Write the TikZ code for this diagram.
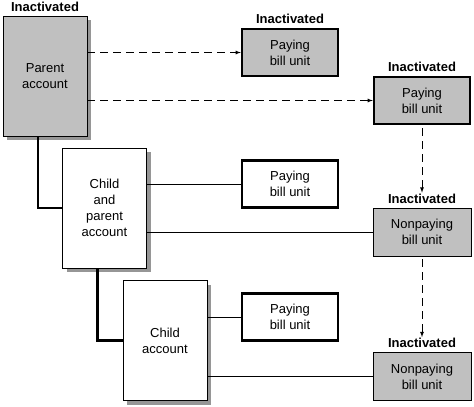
\documentclass[tikz,border=0pt]{standalone}
\usepackage{fontspec}
\setmainfont{Liberation Sans}
\usetikzlibrary{positioning}
\definecolor{boxgray}{RGB}{192,192,192}
\definecolor{shadowgray}{RGB}{150,150,150}

\begin{document}
\begin{tikzpicture}[
        % One unit per pixel, y running down
        x=1pt, y=-1pt,
        every node/.style={font=\fontsize{13}{16}\selectfont},
        % Box Styles
        acctbox/.style={
            rectangle,
            draw=black,
            line width=0.8pt,
            fill=white,
            align=center,
            inner sep=0pt,
            minimum width=84pt,
            minimum height=120pt
        },
        billbox/.style={
            rectangle,
            draw=black,
            fill=white,
            align=center,
            inner sep=0pt
        },
        payingbox/.style={
            billbox,
            line width=2.4pt,
            minimum width=96pt,
            minimum height=47pt
        },
        nonpayingbox/.style={
            billbox,
            line width=0.8pt,
            minimum width=98pt,
            minimum height=48pt
        },
        stopped/.style={fill=boxgray}, % inactivated items are grey
        statelbl/.style={font=\fontsize{13}{16}\selectfont\bfseries, inner sep=1pt},
        boxshadow/.style={fill=shadowgray, minimum width=84pt, minimum height=120pt, inner sep=0pt},
        % Connector Styles
        dasharrow/.style={-latex, line width=0.8pt, dash pattern=on 8pt off 5pt},
        plainline/.style={line width=0.8pt},
        heavyline/.style={line width=2.8pt}
    ]
    \useasboundingbox (0,0) rectangle (474,407);

    % --- Shadows of the account boxes ---
    \node[boxshadow] (parentsh) at (49, 80) {};
    \node[boxshadow] (cpacctsh) at (108.5, 212) {};
    \node[boxshadow] (childacctsh) at (169, 344.5) {};

    % --- Accounts (Left) ---
    \node[acctbox, stopped] (parent) at (45, 76) {Parent\\account};
    \node[acctbox] (cpacct) at (104.5, 208) {Child\\and\\parent\\account};
    \node[acctbox] (childacct) at (165, 340.5) {Child\\account};

    % --- Bill Units (Right) ---
    \node[payingbox, stopped] (pay1) at (290, 52.5) {Paying\\bill unit};
    \node[payingbox, stopped] (pay2) at (422, 100.5) {Paying\\bill unit};
    \node[payingbox] (pay3) at (290, 184) {Paying\\bill unit};
    \node[nonpayingbox, stopped] (np1) at (422, 232) {Nonpaying\\bill unit};
    \node[payingbox] (pay4) at (290, 317) {Paying\\bill unit};
    \node[nonpayingbox, stopped] (np2) at (422, 376.5) {Nonpaying\\bill unit};

    % --- State Labels ---
    \node[statelbl, above=3pt of parent] (parentlbl) {Inactivated};
    \node[statelbl, above=3pt of pay1] (pay1lbl) {Inactivated};
    \node[statelbl, above=3pt of pay2] (pay2lbl) {Inactivated};
    \node[statelbl, above=3pt of np1] (np1lbl) {Inactivated};
    \node[statelbl, above=3pt of np2] (np2lbl) {Inactivated};

    % --- Paths & Connections ---

    % Account hierarchy
    \draw[heavyline] ([xshift=-7pt]parent.south) |- (cpacct.west);
    \draw[heavyline] ([xshift=-7pt]cpacct.south) |- (childacct.west);

    % Bill units owned by the accounts
    \draw[plainline] (cpacct.east |- pay3.west) -- (pay3.west);
    \draw[plainline] (cpacct.east |- np1.west) -- (np1.west);
    \draw[plainline] (childacct.east |- pay4.west) -- (pay4.west);
    \draw[plainline] (childacct.east |- np2.west) -- (np2.west);

    % Inactivation spreading
    \draw[dasharrow] (parent.east |- pay1.west) -- (pay1.west);
    \draw[dasharrow] (parent.east |- pay2.west) -- (pay2.west);
    \draw[dasharrow, shorten <=3pt] (pay2.south) -- (np1lbl.north);
    \draw[dasharrow, shorten <=3pt] (np1.south) -- (np2lbl.north);

    \end{tikzpicture}
\end{document}
